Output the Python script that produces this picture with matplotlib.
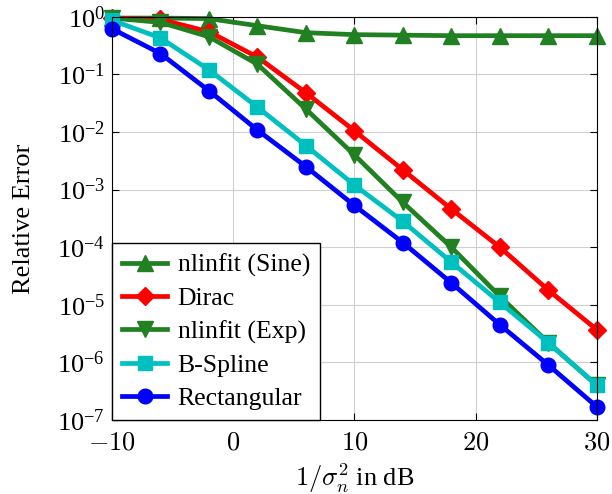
import matplotlib
matplotlib.use("Agg")
import matplotlib.pyplot as plt
import numpy as np

plt.rcParams['font.family'] = ['Liberation Serif', 'DejaVu Serif']
plt.rcParams['mathtext.fontset'] = 'cm'

# Data
snr = [-10, -6, -2, 2, 6, 10, 14, 18, 22, 26, 30]
err_sine = [0.95, 0.95, 0.93, 0.70, 0.53, 0.49, 0.48, 0.47, 0.47, 0.47, 0.47]
err_dirac = [0.95, 0.90, 0.55, 0.20, 0.048, 0.0105, 0.0022, 4.6e-4, 1.0e-4, 1.8e-5, 3.7e-6]
err_exp = [0.95, 0.80, 0.45, 0.15, 0.025, 0.0040, 6.0e-4, 1.0e-4, 1.4e-5, 2.2e-6, 4.0e-7]
err_bspline = [0.87, 0.43, 0.12, 0.027, 0.0058, 0.0012, 2.8e-4, 5.5e-5, 1.1e-5, 2.2e-6, 4.0e-7]
err_rect = [0.62, 0.23, 0.052, 0.0108, 0.0025, 5.3e-4, 1.2e-4, 2.4e-5, 4.5e-6, 9.0e-7, 1.7e-7]

green = (0.13, 0.5, 0.13)

fig = plt.figure(figsize=(6.12, 4.94), dpi=100)
ax = fig.add_axes([0.183, 0.150, 0.792, 0.816])

lw = 3.4
ax.plot(snr, err_sine, color=green, lw=lw, marker='^', ms=11, label='nlinfit (Sine)', clip_on=False)
ax.plot(snr, err_dirac, color='red', lw=lw, marker='D', ms=9, label='Dirac', clip_on=False)
ax.plot(snr, err_exp, color=green, lw=lw, marker='v', ms=11, label='nlinfit (Exp)', clip_on=False)
ax.plot(snr, err_bspline, color=(0.0, 0.75, 0.75), lw=lw, marker='s', ms=10, label='B-Spline', clip_on=False)
ax.plot(snr, err_rect, color='blue', lw=lw, marker='o', ms=10.5, label='Rectangular', clip_on=False)

ax.set_yscale('log')
ax.set_xlim(-10, 30)
ax.set_ylim(1e-7, 1)
ax.set_xticks([-10, 0, 10, 20, 30])
ax.set_xticklabels([r'$-10$', r'$0$', r'$10$', r'$20$', r'$30$'])
ax.set_yticks([10.0**k for k in range(-7, 1)])
ax.grid(True, which='major', color='#d0d0d0', lw=0.8)
ax.tick_params(which='both', direction='in', top=True, right=True, labelsize=19)
ax.tick_params(which='major', length=5)
ax.tick_params(which='minor', length=3)
ax.tick_params(axis='x', pad=9)
ax.tick_params(axis='y', pad=5)

ax.set_xlabel(r'$1/\sigma_n^2$ in dB', fontsize=19, labelpad=5)
ax.set_ylabel('Relative Error', fontsize=19, labelpad=16)

leg = ax.legend(loc='lower left', fontsize=18.5, fancybox=False, framealpha=1,
                edgecolor='black', borderaxespad=0.0, handlelength=1.75,
                handletextpad=0.4, labelspacing=0.39, borderpad=0.4)
leg.get_frame().set_linewidth(1.0)

fig.savefig("out.png", dpi=100)
